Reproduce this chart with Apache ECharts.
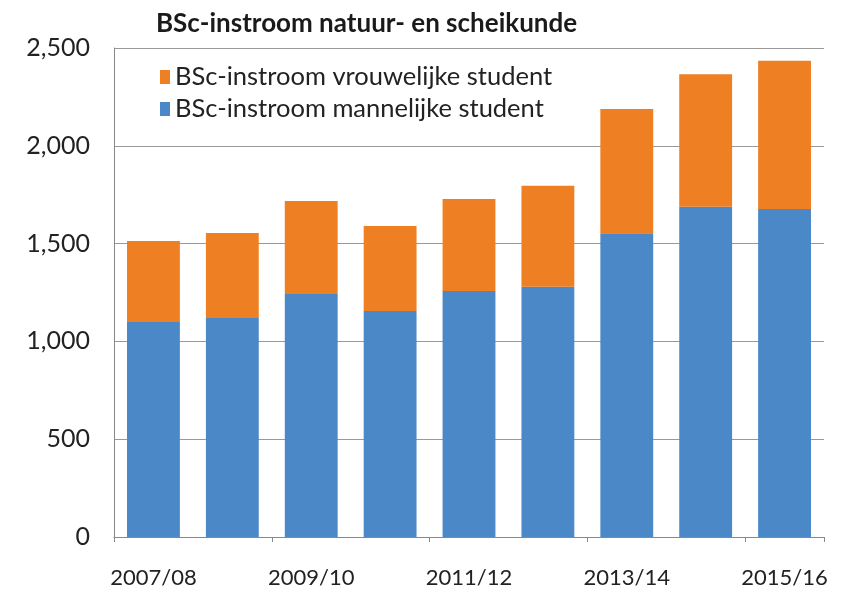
<!DOCTYPE html>
<html>
<head>
<meta charset="utf-8">
<script src="https://cdn.jsdelivr.net/npm/echarts@6/dist/echarts.min.js"></script>
<style>
  html, body { margin: 0; padding: 0; background: #fff; }
  #chart { width: 850px; height: 594px; }
</style>
</head>
<body>
<div id="chart"></div>
<script>
// jaren en instroom per geslacht
var years = ['2007/08', '2008/09', '2009/10', '2010/11', '2011/12', '2012/13', '2013/14', '2014/15', '2015/16']
var mannen = [1099, 1120, 1242, 1155, 1258, 1280, 1553, 1689, 1677]
var vrouwen = [414, 434, 476, 435, 470, 516, 635, 677, 758]
var yTicks = [0, 500, 1000, 1500, 2000, 2500]

var fontFam = 'Lato, "Open Sans", sans-serif'
var chart = echarts.init(document.getElementById('chart'))

chart.setOption({
  animation: false,
  title: {
    text: 'BSc-instroom natuur- en scheikunde',
    left: 151,
    top: 6,
    textStyle: { fontFamily: fontFam, fontSize: 26, fontWeight: 'bold', color: '#1a1a1a' }
  },
  legend: {
    orient: 'vertical',
    left: 155,
    top: 59,
    itemWidth: 10,
    itemHeight: 14,
    itemGap: 6,
    icon: 'rect',
    textStyle: { fontFamily: fontFam, fontSize: 25.5, color: '#222' },
    data: ['BSc-instroom vrouwelijke student', 'BSc-instroom mannelijke student']
  },
  grid: { left: 114, right: 26, top: 48, bottom: 57 },
  xAxis: {
    type: 'category',
    data: years,
    axisLine: { lineStyle: { color: '#888' } },
    axisTick: { show: true, length: 5, lineStyle: { color: '#888' } },
    axisLabel: { interval: 1, fontFamily: fontFam, fontSize: 22, color: '#222', margin: 30 }
  },
  yAxis: {
    type: 'value',
    min: yTicks[0],
    max: yTicks[yTicks.length - 1],
    interval: 500,
    axisLine: { show: true, lineStyle: { color: '#888' } },
    axisTick: { show: false },
    splitLine: { lineStyle: { color: '#999', width: 1 } },
    axisLabel: {
      fontFamily: fontFam, fontSize: 25, color: '#222', margin: 24,
      formatter: function (v) { return v.toLocaleString('en-US') }
    }
  },
  series: [{
    name: 'BSc-instroom mannelijke student',
    type: 'bar',
    stack: 'totaal',
    barWidth: '67%',
    itemStyle: { color: '#4a88c8' },
    data: mannen
  },
  {
    name: 'BSc-instroom vrouwelijke student',
    type: 'bar',
    stack: 'totaal',
    itemStyle: { color: '#ee7f22' },
    data: vrouwen
  }]
})
</script>
</body>
</html>
